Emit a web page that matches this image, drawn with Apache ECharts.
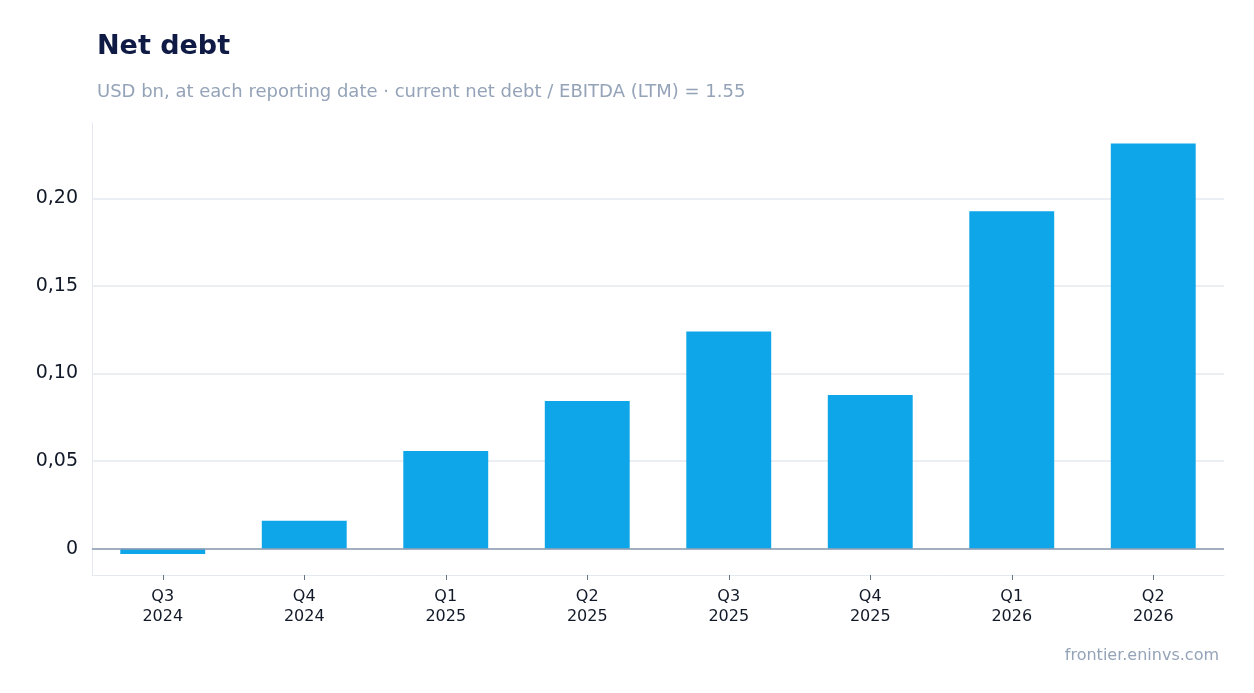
<!DOCTYPE html>
<html><head><meta charset="utf-8">
<script src="https://cdn.jsdelivr.net/npm/echarts@6/dist/echarts.min.js"></script>
<style>html,body{margin:0;padding:0;background:#fff}#c{width:1254px;height:693px}</style>
</head><body><div id="c"></div>
<script>
const categories = ["Q3\n2024","Q4\n2024","Q1\n2025","Q2\n2025","Q3\n2025","Q4\n2025","Q1\n2026","Q2\n2026"];
const netDebt = [-0.003,0.016,0.0558,0.0843,0.124,0.0877,0.1926,0.2313];
const yTicks = [0,0.05,0.10,0.15,0.20];
const chart = echarts.init(document.getElementById('c'));
const F = 'DejaVu Sans';
chart.setOption({
  animation:false,
  textStyle:{fontFamily:F},
  title:[{text:'Net debt',left:92,top:28,textStyle:{fontFamily:F,fontSize:27,fontWeight:'bold',color:'#0f1a45'}},
         {text:'USD bn, at each reporting date · current net debt / EBITDA (LTM) = 1.55',left:92,top:78,textStyle:{fontFamily:F,fontSize:18,fontWeight:'normal',color:'#94a3b8'}},
         {text:'frontier.eninvs.com',right:30,top:643,textStyle:{fontFamily:F,fontSize:16,fontWeight:'normal',color:'#94a3b8'}}],
  grid:{left:92,right:30,top:123,bottom:118},
  xAxis:{type:'category',data:categories,
    axisLine:{onZero:false,lineStyle:{color:'#e5e8ef'}},
    axisTick:{show:true,alignWithLabel:true,length:5,lineStyle:{color:'#64748b'}},
    axisLabel:{color:'#111827',fontSize:16,lineHeight:20,margin:12}},
  yAxis:{type:'value',min:-0.015,max:0.243,
    axisLine:{show:true,lineStyle:{color:'#e5e8ef'}},
    axisTick:{show:false,customValues:yTicks},
    axisLabel:{customValues:yTicks,color:'#111827',fontSize:19,margin:14,
      formatter:v=>v===0?'0':v.toFixed(2).replace('.',',')},
    splitLine:{show:true,lineStyle:{color:'#e5e8ef',width:1.5}}},
  series:[{type:'bar',data:netDebt,barWidth:'60%',itemStyle:{color:'#0ea5e9'},
    markLine:{symbol:'none',silent:true,label:{show:false},lineStyle:{color:'#8a9ab0',type:'solid',width:1.5},data:[{yAxis:0}]}}]
});
</script></body></html>
